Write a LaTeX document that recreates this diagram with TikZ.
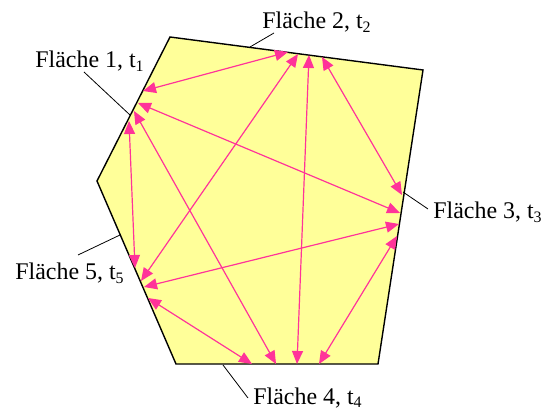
\documentclass[tikz,border=0pt]{standalone}
\usepackage{fontspec}
\setmainfont{Liberation Serif}
\usetikzlibrary{arrows.meta}
\definecolor{flaeche}{RGB}{255,255,153}
\definecolor{strahl}{RGB}{255,51,153}

\begin{document}
\begin{tikzpicture}[x=0.5bp, y=-0.5bp,
    tip/.tip   = {Triangle[length=6.5bp, width=5.5bp]},
    ray/.style = {strahl, line width=0.6pt, tip-tip},
    leader/.style = {black, line width=0.4pt},
    lbl/.style = {anchor=base west, inner sep=0pt, font=\fontsize{12}{14}\selectfont}]
    \useasboundingbox (0,0) rectangle (548,412);

    \draw [line width=0.7pt, fill=flaeche] (170,37) -- (423,70) -- (378,364)
      -- (176,364) -- (97,181) -- cycle;

    % Punkte auf den Flaechen
    \coordinate (p12) at (143, 91); \coordinate (p13) at (138,103);
    \coordinate (p14) at (134,111); \coordinate (p15) at (129,121);
    \coordinate (p21) at (288, 52); \coordinate (p25) at (298, 54);
    \coordinate (p24) at (309, 55); \coordinate (p23) at (322, 57);
    \coordinate (p32) at (402,195); \coordinate (p31) at (400,213);
    \coordinate (p35) at (399,224); \coordinate (p34) at (397,236);
    \coordinate (p45) at (252,364); \coordinate (p41) at (276,364);
    \coordinate (p42) at (297,364); \coordinate (p43) at (319,364);
    \coordinate (p51) at (135,268); \coordinate (p52) at (141,281);
    \coordinate (p53) at (144,287); \coordinate (p54) at (148,298);

    \draw [ray] (p12) -- (p21);
    \draw [ray] (p13) -- (p31);
    \draw [ray] (p14) -- (p41);
    \draw [ray] (p15) -- (p51);
    \draw [ray] (p25) -- (p52);
    \draw [ray] (p24) -- (p42);
    \draw [ray] (p23) -- (p32);
    \draw [ray] (p35) -- (p53);
    \draw [ray] (p34) -- (p43);
    \draw [ray] (p54) -- (p45);

    % Beschriftung
    \node [lbl] (t1) at ( 35, 68) {Fläche 1, t\textsubscript{1}};
    \node [lbl] (t2) at (262, 29) {Fläche 2, t\textsubscript{2}};
    \node [lbl] (t3) at (433,219) {Fläche 3, t\textsubscript{3}};
    \node [lbl] (t4) at (253,404) {Fläche 4, t\textsubscript{4}};
    \node [lbl] (t5) at ( 15,280) {Fläche 5, t\textsubscript{5}};

    \coordinate (k1) at ( 84, 72); \coordinate (e1) at (130,115);
    \coordinate (k2) at (274, 33); \coordinate (e2) at (250, 47);
    \coordinate (k3) at (428,209); \coordinate (e3) at (403,192);
    \coordinate (k4) at (248,398); \coordinate (e4) at (223,365);
    \coordinate (k5) at ( 78,255); \coordinate (e5) at (120,235);

    \foreach \i in {1,...,5}
      \draw [leader] (k\i) -- (e\i);
\end{tikzpicture}
\end{document}
